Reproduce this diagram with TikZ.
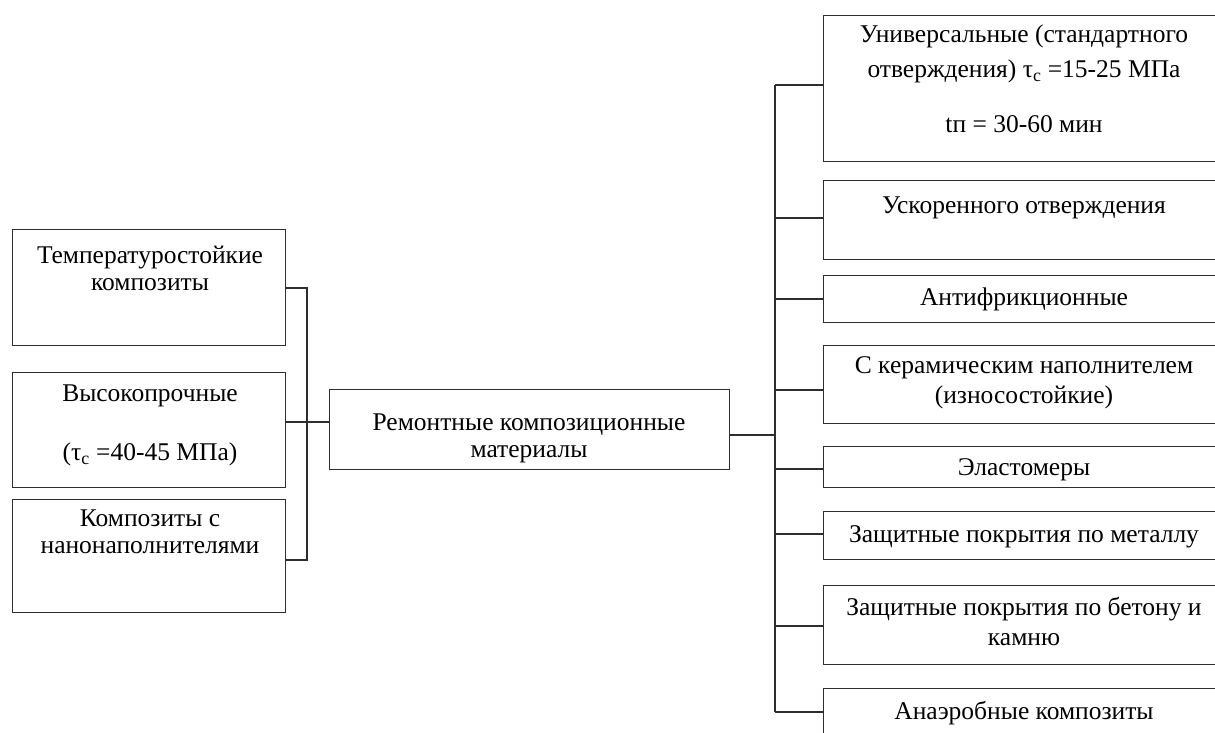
\documentclass[tikz,border=0pt]{standalone}
\usepackage{fontspec}
\setmainfont{Liberation Serif}
\newcommand{\firststrut}{\rule{0pt}{22pt}}
\begin{document}
\begin{tikzpicture}[x=1pt,y=-1pt,
  box/.style={draw=black!82, line width=1.4pt, anchor=north west, inner sep=0pt},
  txt/.style={align=center, inner sep=0pt, anchor=north,
              execute at begin node=\firststrut},
  link/.style={draw=black!82, line width=1.4pt}]
\useasboundingbox (0,0) rectangle (1215,733);
\clip (0,0) rectangle (1215,733);

% central node
\node[box, minimum width=400pt, minimum height=80pt] (m) at (329,389) {};
\node[txt, font=\fontsize{25.5}{26.5}\selectfont] (mt) at (529,414)
  {Ремонтные композиционные\\материалы};

% left column
\node[box, minimum width=273pt, minimum height=116pt] (l1) at (12,229) {};
\node[box, minimum width=273pt, minimum height=115pt] (l2) at (12,372) {};
\node[box, minimum width=273pt, minimum height=113pt] (l3) at (12,499) {};
\node[txt, font=\fontsize{25.5}{27}\selectfont] (l1t) at (150,246)
  {Температуростойкие\\композиты};
\node[txt, font=\fontsize{25.5}{27}\selectfont] (l2t) at (150,385)
  {Высокопрочные\\[32pt](τ\textsubscript{c} =40-45 МПа)};
\node[txt, font=\fontsize{25.5}{27}\selectfont] (l3t) at (150,510)
  {Композиты с\\нанонаполнителями};

% right column
\node[box, minimum width=402pt, minimum height=146pt] (r1) at (823,15) {};
\node[box, minimum width=402pt, minimum height=79pt]  (r2) at (823,180) {};
\node[box, minimum width=402pt, minimum height=47pt]  (r3) at (823,275) {};
\node[box, minimum width=402pt, minimum height=78pt]  (r4) at (823,345) {};
\node[box, minimum width=402pt, minimum height=41pt]  (r5) at (823,446) {};
\node[box, minimum width=402pt, minimum height=48pt]  (r6) at (823,511) {};
\node[box, minimum width=402pt, minimum height=79pt]  (r7) at (823,585) {};
\node[box, minimum width=402pt, minimum height=48pt]  (r8) at (823,688) {};

\node[txt, font=\fontsize{25.5}{35}\selectfont] (r1t) at (1024,25)
  {Универсальные (стандартного\\отверждения) τ\textsubscript{c} =15-25 МПа\\[20pt]tп = 30-60 мин};
\node[txt, font=\fontsize{25.5}{30}\selectfont] (r2t) at (1024,191) {Ускоренного отверждения};
\node[txt, font=\fontsize{25.5}{30}\selectfont] (r3t) at (1024,283) {Антифрикционные};
\node[txt, font=\fontsize{25.5}{30}\selectfont] (r4t) at (1024,356)
  {С керамическим наполнителем\\(износостойкие)};
\node[txt, font=\fontsize{25.5}{30}\selectfont] (r5t) at (1024,453) {Эластомеры};
\node[txt, font=\fontsize{25.5}{30}\selectfont] (r6t) at (1024,520) {Защитные покрытия по металлу};
\node[txt, font=\fontsize{25.5}{30}\selectfont] (r7t) at (1024,597)
  {Защитные покрытия по бетону и\\камню};
\node[txt, font=\fontsize{25.5}{30}\selectfont] (r8t) at (1024,697) {Анаэробные композиты};

% left bracket
\coordinate (lt) at (307,288);
\coordinate (lm) at (307,422);
\coordinate (lb) at (307,560);
\draw[link] (l1.east |- lt) -- (lt) -- (lb) -- (l3.east |- lb);
\draw[link] (l2.east |- lm) -- (m.west |- lm);

% right trunk
\coordinate (rm) at (775,435);
\coordinate (t1) at (775,85);
\coordinate (t2) at (775,218);
\coordinate (t3) at (775,299);
\coordinate (t4) at (775,390);
\coordinate (t5) at (775,469);
\coordinate (t6) at (775,534);
\coordinate (t7) at (775,626);
\coordinate (t8) at (775,712);
\draw[link] (m.east |- rm) -- (rm);
\draw[link] (t1) -- (t8);
\foreach \i in {1,...,8}{
  \draw[link] (t\i) -- (t\i -| r\i.west);
}
\end{tikzpicture}
\end{document}
